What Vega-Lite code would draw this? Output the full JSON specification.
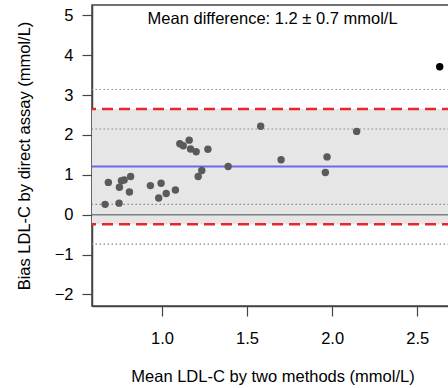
{
  "$schema": "https://vega.github.io/schema/vega-lite/v6.json",
  "width": 361,
  "height": 301,
  "autosize": {"type": "none"},
  "padding": {"left": 92, "top": 5, "right": 0, "bottom": 82},
  "background": "white",
  "config": {
    "font": "Liberation Sans",
    "view": {"stroke": "#444444", "strokeWidth": 1.5},
    "axis": {
      "grid": false,
      "labelFont": "Liberation Sans",
      "titleFont": "Liberation Sans",
      "labelFontSize": 16.5,
      "titleFontSize": 16.5,
      "titleFontWeight": "normal",
      "labelColor": "#000000",
      "titleColor": "#000000",
      "tickColor": "#444444",
      "tickWidth": 1.2,
      "tickSize": 10,
      "domainColor": "#444444",
      "domainWidth": 1.5,
      "zindex": 1
    }
  },
  "layer": [
    {
      "data": {"values": [{"lo": -0.24, "hi": 2.65}]},
      "mark": {"type": "rect", "color": "#e6e6e6"},
      "encoding": {
        "y": {"field": "lo", "type": "quantitative", "scale": {"domain": [-2.29, 5.26], "nice": false, "zero": false},
              "axis": {"values": [-2, -1, 0, 1, 2, 3, 4, 5], "title": "Bias LDL-C by direct assay (mmol/L)", "labelPadding": 9, "titlePadding": 22}},
        "y2": {"field": "hi"}
      }
    },
    {
      "data": {"values": [{"v": 3.14}, {"v": 2.15}, {"v": 0.26}, {"v": -0.74}]},
      "mark": {"type": "rule", "color": "#8a8a8a", "strokeWidth": 1.2, "strokeDash": [1.5, 2.5]},
      "encoding": {"y": {"field": "v", "type": "quantitative"}}
    },
    {
      "data": {"values": [{"v": 0}]},
      "mark": {"type": "rule", "color": "#808080", "strokeWidth": 1.5},
      "encoding": {"y": {"field": "v", "type": "quantitative"}}
    },
    {
      "data": {"values": [{"v": 1.21}]},
      "mark": {"type": "rule", "color": "#6a6aea", "strokeWidth": 2},
      "encoding": {"y": {"field": "v", "type": "quantitative"}}
    },
    {
      "data": {"values": [{"v": 2.65}, {"v": -0.24}]},
      "mark": {"type": "rule", "color": "#e8262b", "strokeWidth": 2.5, "strokeDash": [11, 6]},
      "encoding": {"y": {"field": "v", "type": "quantitative"}}
    },
    {
      "data": {"values": [
        {"x": 0.666, "y": 0.26, "g": "a"},
        {"x": 0.685, "y": 0.81, "g": "a"},
        {"x": 0.748, "y": 0.29, "g": "a"},
        {"x": 0.75, "y": 0.69, "g": "a"},
        {"x": 0.762, "y": 0.85, "g": "a"},
        {"x": 0.778, "y": 0.87, "g": "a"},
        {"x": 0.816, "y": 0.96, "g": "a"},
        {"x": 0.809, "y": 0.57, "g": "a"},
        {"x": 0.932, "y": 0.73, "g": "a"},
        {"x": 0.995, "y": 0.79, "g": "a"},
        {"x": 0.981, "y": 0.42, "g": "a"},
        {"x": 1.025, "y": 0.53, "g": "a"},
        {"x": 1.079, "y": 0.62, "g": "a"},
        {"x": 1.105, "y": 1.78, "g": "a"},
        {"x": 1.125, "y": 1.73, "g": "a"},
        {"x": 1.16, "y": 1.87, "g": "a"},
        {"x": 1.168, "y": 1.65, "g": "a"},
        {"x": 1.201, "y": 1.58, "g": "a"},
        {"x": 1.27, "y": 1.64, "g": "a"},
        {"x": 1.213, "y": 0.96, "g": "a"},
        {"x": 1.234, "y": 1.11, "g": "a"},
        {"x": 1.389, "y": 1.21, "g": "a"},
        {"x": 1.58, "y": 2.22, "g": "a"},
        {"x": 1.7, "y": 1.38, "g": "a"},
        {"x": 1.97, "y": 1.45, "g": "a"},
        {"x": 1.96, "y": 1.06, "g": "a"},
        {"x": 2.144, "y": 2.09, "g": "a"},
        {"x": 2.632, "y": 3.71, "g": "b"}
      ]},
      "mark": {"type": "circle", "size": 55, "opacity": 1},
      "encoding": {
        "x": {"field": "x", "type": "quantitative", "scale": {"domain": [0.589, 2.71], "nice": false, "zero": false},
              "axis": {"values": [1.0, 1.5, 2.0, 2.5], "format": ".1f", "title": "Mean LDL-C by two methods (mmol/L)", "labelPadding": 14, "titlePadding": 22}},
        "y": {"field": "y", "type": "quantitative"},
        "color": {"field": "g", "type": "nominal", "scale": {"domain": ["a", "b"], "range": ["#5a5a5a", "#000000"]}, "legend": null}
      }
    },
    {
      "data": {"values": [{"x": 1.65, "y": 4.9, "label": "Mean difference: 1.2 ± 0.7 mmol/L"}]},
      "mark": {"type": "text", "fontSize": 16.5, "font": "Liberation Sans", "color": "#000000", "baseline": "middle", "align": "center"},
      "encoding": {
        "x": {"field": "x", "type": "quantitative"},
        "y": {"field": "y", "type": "quantitative"},
        "text": {"field": "label"}
      }
    }
  ]
}
